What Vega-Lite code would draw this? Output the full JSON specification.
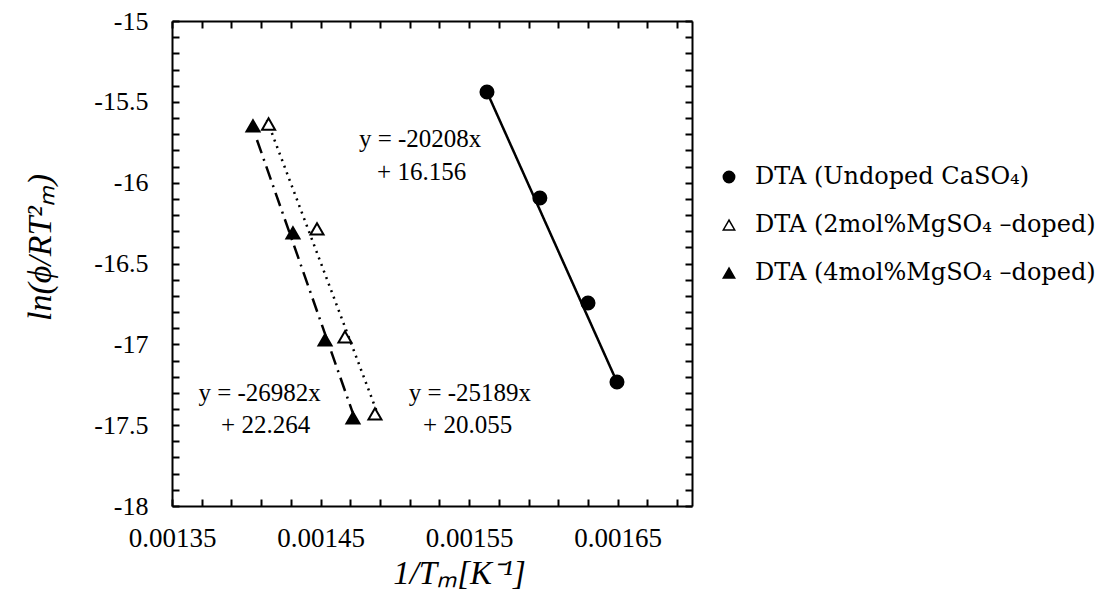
{
  "$schema": "https://vega.github.io/schema/vega-lite/v6.json",
  "width": 520,
  "height": 485,
  "autosize": {"type": "none"},
  "padding": {"left": 172, "top": 21, "right": 428, "bottom": 86},
  "background": "white",
  "config": {
    "font": "Liberation Serif",
    "view": {"stroke": null},
    "axis": {"grid": false, "domainColor": "black", "domainWidth": 2, "tickColor": "black", "tickWidth": 2, "labelColor": "black", "titleColor": "black", "labelFont": "Liberation Serif", "titleFont": "Liberation Serif", "titleFontWeight": "normal"}
  },
  "datasets": {
    "pts": [
      {"series": "DTA (Undoped CaSO₄)", "x": 0.001562, "y": -15.439},
      {"series": "DTA (Undoped CaSO₄)", "x": 0.0015976, "y": -16.095},
      {"series": "DTA (Undoped CaSO₄)", "x": 0.00163, "y": -16.744},
      {"series": "DTA (Undoped CaSO₄)", "x": 0.0016495, "y": -17.233},
      {"series": "DTA (2mol%MgSO₄ –doped)", "x": 0.001415, "y": -15.637},
      {"series": "DTA (2mol%MgSO₄ –doped)", "x": 0.0014476, "y": -16.286},
      {"series": "DTA (2mol%MgSO₄ –doped)", "x": 0.0014664, "y": -16.954},
      {"series": "DTA (2mol%MgSO₄ –doped)", "x": 0.0014866, "y": -17.43},
      {"series": "DTA (4mol%MgSO₄ –doped)", "x": 0.0014045, "y": -15.649},
      {"series": "DTA (4mol%MgSO₄ –doped)", "x": 0.0014314, "y": -16.311},
      {"series": "DTA (4mol%MgSO₄ –doped)", "x": 0.001453, "y": -16.973},
      {"series": "DTA (4mol%MgSO₄ –doped)", "x": 0.0014718, "y": -17.455}
    ],
    "trend": [
      {"fit": "undoped", "x": 0.001562, "y": -15.439},
      {"fit": "undoped", "x": 0.0016495, "y": -17.233},
      {"fit": "2mol", "x": 0.0014139, "y": -15.612},
      {"fit": "2mol", "x": 0.00149, "y": -17.468},
      {"fit": "4mol", "x": 0.0014072, "y": -15.736},
      {"fit": "4mol", "x": 0.0014738, "y": -17.48}
    ],
    "notes": [
      {"label": "y = -20208x", "x": 0.001517, "y": -15.73},
      {"label": "+ 16.156", "x": 0.001518, "y": -15.934},
      {"label": "y = -26982x", "x": 0.001409, "y": -17.30},
      {"label": "+ 22.264", "x": 0.001413, "y": -17.498},
      {"label": "y = -25189x", "x": 0.0015505, "y": -17.30},
      {"label": "+ 20.055", "x": 0.001549, "y": -17.498}
    ]
  },
  "layer": [
    {
      "data": {"name": "trend"},
      "mark": {"type": "line", "color": "black", "strokeWidth": 2.5},
      "encoding": {
        "x": {"field": "x", "type": "quantitative", "scale": {"domain": [0.00135, 0.0017], "nice": false, "zero": false},
          "axis": {"orient": "bottom", "title": "1/Tₘ[K⁻¹]", "titleFontStyle": "italic", "titleFontSize": 33, "titleX": 287, "titleY": 67, "titleBaseline": "middle",
            "values": [0.00135, 0.00137, 0.00139, 0.00141, 0.00143, 0.00145, 0.00147, 0.00149, 0.00151, 0.00153, 0.00155, 0.00157, 0.00159, 0.00161, 0.00163, 0.00165, 0.00167, 0.00169],
            "labelExpr": "indexof(['0.00135','0.00145','0.00155','0.00165'], format(datum.value,'.5f')) >= 0 ? format(datum.value,'.5f') : ''",
            "tickSize": -7, "labelPadding": 26, "labelFontSize": 27, "labelOverlap": false, "labelFlush": false}},
        "y": {"field": "y", "type": "quantitative", "scale": {"domain": [-18, -15], "nice": false, "zero": false},
          "axis": {"orient": "left", "title": "ln(ϕ/RT²ₘ)", "titleFontStyle": "italic", "titleFontSize": 34, "titleX": -132, "titleY": 226, "titleBaseline": "middle", "titleAngle": -90,
            "values": [-18, -17.9, -17.8, -17.7, -17.6, -17.5, -17.4, -17.3, -17.2, -17.1, -17, -16.9, -16.8, -16.7, -16.6, -16.5, -16.4, -16.3, -16.2, -16.1, -16, -15.9, -15.8, -15.7, -15.6, -15.5, -15.4, -15.3, -15.2, -15.1, -15],
            "labelExpr": "abs(datum.value*2 - round(datum.value*2)) < 0.001 ? (datum.value + '') : ''",
            "tickSize": -7, "labelPadding": 31, "labelFontSize": 26, "labelOverlap": false, "labelFlush": false}},
        "detail": {"field": "fit"},
        "strokeDash": {"field": "fit", "type": "nominal", "legend": null,
          "scale": {"domain": ["undoped", "2mol", "4mol"], "range": [[1, 0], [2, 5], [14, 6, 2, 6]]}}
      }
    },
    {
      "data": {"name": "pts"},
      "mark": {"type": "point", "filled": true, "stroke": "black", "strokeWidth": 2, "opacity": 1, "size": 170},
      "encoding": {
        "x": {"field": "x", "type": "quantitative", "axis": null},
        "y": {"field": "y", "type": "quantitative", "axis": null},
        "shape": {"field": "series", "type": "nominal",
          "scale": {"domain": ["DTA (Undoped CaSO₄)", "DTA (2mol%MgSO₄ –doped)", "DTA (4mol%MgSO₄ –doped)"], "range": ["circle", "triangle-up", "triangle-up"]},
          "legend": {"title": null, "orient": "none", "legendX": 545, "legendY": 144, "labelFont": "DejaVu Serif", "labelFontSize": 24, "labelColor": "black", "rowPadding": 24, "symbolSize": 130, "labelOffset": 14, "padding": 0, "labelLimit": 500,
            "encode": {"symbols": {"update": {"stroke": {"value": "black"}, "strokeWidth": {"value": 1.5}}}}}},
        "fill": {"field": "series", "type": "nominal",
          "scale": {"domain": ["DTA (Undoped CaSO₄)", "DTA (2mol%MgSO₄ –doped)", "DTA (4mol%MgSO₄ –doped)"], "range": ["black", "white", "black"]},
          "legend": {"title": null, "orient": "none", "legendX": 545, "legendY": 144, "labelFont": "DejaVu Serif", "labelFontSize": 24, "labelColor": "black", "rowPadding": 24, "symbolSize": 130, "labelOffset": 14, "padding": 0, "labelLimit": 500,
            "encode": {"symbols": {"update": {"stroke": {"value": "black"}, "strokeWidth": {"value": 1.5}}}}}}
      }
    },
    {
      "data": {"name": "notes"},
      "mark": {"type": "text", "fontSize": 25, "color": "black", "align": "center", "baseline": "middle", "font": "Liberation Serif"},
      "encoding": {
        "x": {"field": "x", "type": "quantitative", "axis": null},
        "y": {"field": "y", "type": "quantitative", "axis": null},
        "text": {"field": "label"}
      }
    },
    {
      "data": {"name": "trend"},
      "mark": {"type": "point", "opacity": 0},
      "encoding": {
        "x": {"field": "x", "type": "quantitative",
          "axis": {"orient": "top", "title": null, "labels": false, "tickSize": -7,
            "values": [0.00135, 0.00137, 0.00139, 0.00141, 0.00143, 0.00145, 0.00147, 0.00149, 0.00151, 0.00153, 0.00155, 0.00157, 0.00159, 0.00161, 0.00163, 0.00165, 0.00167, 0.00169]}},
        "y": {"field": "y", "type": "quantitative",
          "axis": {"orient": "right", "title": null, "labels": false, "tickSize": -7,
            "values": [-18, -17.9, -17.8, -17.7, -17.6, -17.5, -17.4, -17.3, -17.2, -17.1, -17, -16.9, -16.8, -16.7, -16.6, -16.5, -16.4, -16.3, -16.2, -16.1, -16, -15.9, -15.8, -15.7, -15.6, -15.5, -15.4, -15.3, -15.2, -15.1, -15]}}
      }
    }
  ],
  "resolve": {"axis": {"x": "independent", "y": "independent"}}
}
